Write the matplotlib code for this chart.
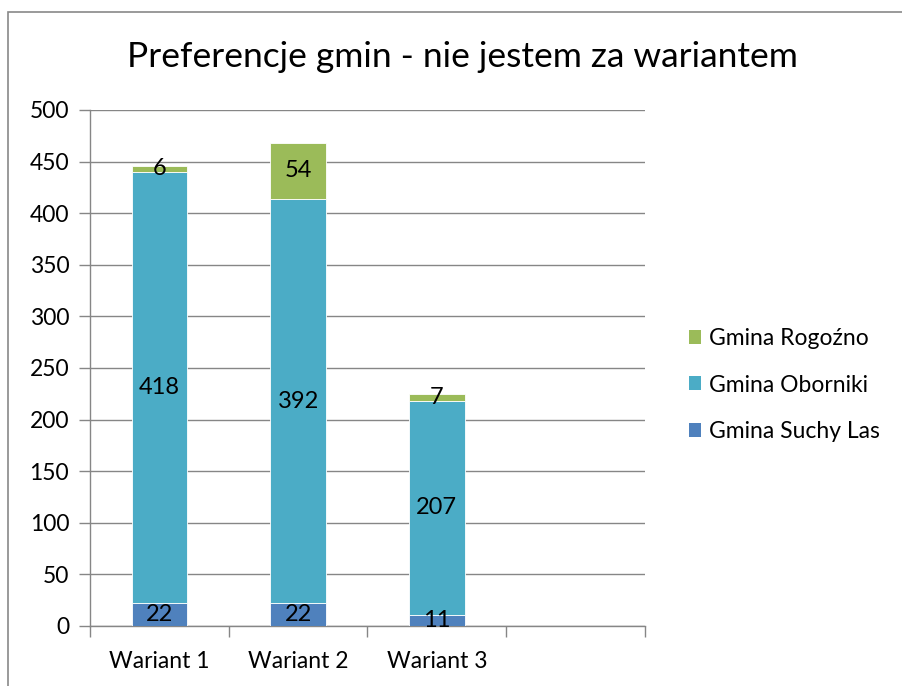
import matplotlib
matplotlib.use("Agg")
import matplotlib.pyplot as plt
from matplotlib.patches import Rectangle, Patch

categories = ["Wariant 1", "Wariant 2", "Wariant 3", ""]
suchy_las = [22, 22, 11, 0]
oborniki = [418, 392, 207, 0]
rogozno = [6, 54, 7, 0]
series_names = ["Gmina Suchy Las", "Gmina Oborniki", "Gmina Rogoźno"]
colors = ["#4F81BD", "#4BACC6", "#9BBB59"]
yticks = [0, 50, 100, 150, 200, 250, 300, 350, 400, 450, 500]

plt.rcParams['font.family'] = ['Lato', 'DejaVu Sans']

W, H = 903, 686
fig = plt.figure(figsize=(W / 100, H / 100), dpi=100)

# outer chart border
fig.patches.append(Rectangle((8 / W, -0.01), 1.2, (H - 12) / H + 0.01, transform=fig.transFigure,
                             fill=False, edgecolor="#898989", linewidth=1.2))

ax = fig.add_axes([90 / W, (H - 626) / H, (645 - 90) / W, (626 - 110) / H])
x = list(range(len(categories)))
n = 3  # only first three categories have data
bottoms = [0] * len(categories)
data = [suchy_las, oborniki, rogozno]
for vals, c, name in zip(data, colors, series_names):
    ax.bar(x[:n], vals[:n], width=0.4, bottom=bottoms[:n], color=c,
           edgecolor="white", linewidth=0.6, label=name, zorder=3)
    for i in range(n):
        ax.text(x[i], bottoms[i] + vals[i] / 2, str(vals[i]), ha="center", va="center",
                fontsize=17, color="black", zorder=4)
    bottoms = [b + v for b, v in zip(bottoms, vals)]

ax.set_xlim(-0.5, len(categories) - 0.5)
ax.set_ylim(0, 500)
ax.set_yticks(yticks)
ax.set_yticklabels([str(t) for t in yticks], fontsize=16.5)
ax.set_xticks(x[:n])
ax.set_xticklabels(categories[:n], fontsize=16.5)
ax.tick_params(axis="x", length=0, pad=18)
ax.tick_params(axis="y", length=8, width=1, color="#868686", pad=7)
# category boundary ticks
ax.set_xticks([i - 0.5 for i in range(len(categories) + 1)], minor=True)
ax.tick_params(axis="x", which="minor", length=8, width=1, color="#868686")
ax.grid(axis="y", color="#868686", linewidth=1, zorder=0)
for s in ["top", "right"]:
    ax.spines[s].set_visible(False)
for s in ["left", "bottom"]:
    ax.spines[s].set_color("#868686")
    ax.spines[s].set_linewidth(1)

fig.text(462 / W, (H - 57) / H, "Preferencje gmin - nie jestem za wariantem",
         ha="center", va="center", fontsize=25.5)

handles = [Patch(facecolor=colors[2], label=series_names[2]),
           Patch(facecolor=colors[1], label=series_names[1]),
           Patch(facecolor=colors[0], label=series_names[0])]
fig.legend(handles=handles, loc="center left", bbox_to_anchor=(668 / W, (H - 385) / H),
           frameon=False, fontsize=16.5, handlelength=0.55, handleheight=0.55,
           handletextpad=0.35, labelspacing=1.1)

fig.savefig("out.png", dpi=100)
